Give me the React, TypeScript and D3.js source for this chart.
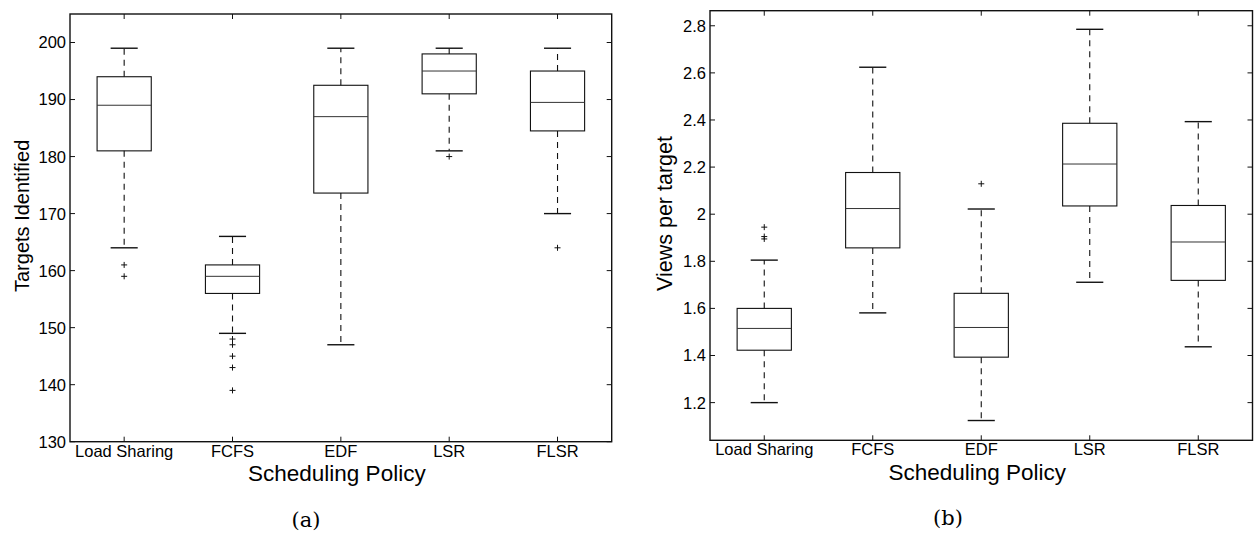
import React from "react";
import * as d3 from "d3";

const categories = ["Load Sharing", "FCFS", "EDF", "LSR", "FLSR"];

// Panel (a): Targets Identified
const targetsLow = [164, 149, 147, 181, 170];
const targetsQ1 = [181, 156, 173.6, 191, 184.5];
const targetsMedian = [189, 159, 187, 195, 189.5];
const targetsQ3 = [194, 161, 192.5, 198, 195];
const targetsHigh = [199, 166, 199, 199, 199];
const targetsOutliers = [[161, 159], [148, 147, 145, 143, 139], [], [180], [164]];
const targetsTicks = [130, 140, 150, 160, 170, 180, 190, 200];

// Panel (b): Views per target
const viewsLow = [1.2, 1.581, 1.124, 1.711, 1.437];
const viewsQ1 = [1.4225, 1.857, 1.393, 2.035, 1.719];
const viewsMedian = [1.515, 2.024, 1.519, 2.213, 1.882];
const viewsQ3 = [1.6, 2.177, 1.664, 2.386, 2.037];
const viewsHigh = [1.805, 2.624, 2.022, 2.785, 2.393];
const viewsOutliers = [[1.945, 1.905, 1.895], [], [2.129], [], []];
const viewsTicks = [1.2, 1.4, 1.6, 1.8, 2, 2.2, 2.4, 2.6, 2.8];

type PanelProps = {
  left: number; right: number; top: number; bottom: number;
  domain: [number, number];
  ticks: number[];
  low: number[]; q1: number[]; med: number[]; q3: number[]; high: number[];
  outliers: number[][];
  yLabel: string; yLabelX: number; yLabelSize: number;
  caption: string; captionX: number;
  fmt: (v: number) => string;
};

const SANS = "Arial, 'Liberation Sans', Helvetica, sans-serif";

function Panel(p: PanelProps) {
  const x = d3.scaleLinear().domain([0.5, categories.length + 0.5]).range([p.left, p.right]);
  const y = d3.scaleLinear().domain(p.domain).range([p.bottom, p.top]);
  const step = x(2) - x(1);
  const bw = step * 0.25;
  const cw = step * 0.125;
  const tl = 5;
  const ink = "#111";
  return (
    <g>
      {categories.map((c, i) => {
        const cx = x(i + 1);
        return (
          <g key={c}>
            <line x1={cx} x2={cx} y1={y(p.q3[i])} y2={y(p.high[i])} stroke={ink} strokeWidth={1.1} strokeDasharray="6,5" />
            <line x1={cx} x2={cx} y1={y(p.q1[i])} y2={y(p.low[i])} stroke={ink} strokeWidth={1.1} strokeDasharray="6,5" />
            <line x1={cx - cw} x2={cx + cw} y1={y(p.high[i])} y2={y(p.high[i])} stroke={ink} strokeWidth={1.4} />
            <line x1={cx - cw} x2={cx + cw} y1={y(p.low[i])} y2={y(p.low[i])} stroke={ink} strokeWidth={1.4} />
            <rect x={cx - bw} y={y(p.q3[i])} width={2 * bw} height={y(p.q1[i]) - y(p.q3[i])} fill="none" stroke={ink} strokeWidth={1.1} />
            <line x1={cx - bw} x2={cx + bw} y1={y(p.med[i])} y2={y(p.med[i])} stroke="#333" strokeWidth={1} />
            {p.outliers[i].map((o, j) => (
              <g key={j} stroke={ink} strokeWidth={1}>
                <line x1={cx - 3} x2={cx + 3} y1={y(o)} y2={y(o)} />
                <line x1={cx} x2={cx} y1={y(o) - 3} y2={y(o) + 3} />
              </g>
            ))}
          </g>
        );
      })}
      <rect x={p.left} y={p.top} width={p.right - p.left} height={p.bottom - p.top} fill="none" stroke={ink} strokeWidth={1.4} />
      {p.ticks.map((t) => (
        <g key={t}>
          <line x1={p.left} x2={p.left + tl} y1={y(t)} y2={y(t)} stroke={ink} strokeWidth={1} />
          <line x1={p.right} x2={p.right - tl} y1={y(t)} y2={y(t)} stroke={ink} strokeWidth={1} />
          <text x={p.left - 4} y={y(t)} dy="0.36em" textAnchor="end" fontFamily={SANS} fontSize={16.5} fill="#000">
            {p.fmt(t)}
          </text>
        </g>
      ))}
      {categories.map((c, i) => (
        <g key={c}>
          <line x1={x(i + 1)} x2={x(i + 1)} y1={p.bottom} y2={p.bottom - tl} stroke={ink} strokeWidth={1} />
          <line x1={x(i + 1)} x2={x(i + 1)} y1={p.top} y2={p.top + tl} stroke={ink} strokeWidth={1} />
          <text x={x(i + 1)} y={p.bottom + 15} textAnchor="middle" fontFamily={SANS} fontSize={16.5} fill="#000">
            {c}
          </text>
        </g>
      ))}
      <text
        transform={`translate(${p.yLabelX},${(p.top + p.bottom) / 2 - 12}) rotate(-90)`}
        textAnchor="middle" dy="0.35em" fontFamily={SANS} fontSize={p.yLabelSize} fill="#000"
      >
        {p.yLabel}
      </text>
      <text x={(p.left + p.right) / 2 - 4} y={p.bottom + 39.5} textAnchor="middle" fontFamily={SANS} fontSize={22.5} fill="#000">
        Scheduling Policy
      </text>
      <text x={p.captionX} y={p.bottom + 85} textAnchor="middle" fontFamily="'DejaVu Serif', serif" fontSize={21} fill="#000">
        {p.caption}
      </text>
    </g>
  );
}

export default function App() {
  return (
    <svg width={1255} height={535} style={{ position: "absolute", left: 0, top: 0, background: "#fff" }}>
      <rect x={0} y={0} width={1255} height={535} fill="#fff" />
      <Panel
        left={70} right={611.7} top={14} bottom={441.7}
        domain={[130, 205]} ticks={targetsTicks}
        low={targetsLow} q1={targetsQ1} med={targetsMedian} q3={targetsQ3} high={targetsHigh}
        outliers={targetsOutliers}
        yLabel="Targets Identified" yLabelX={22} yLabelSize={20}
        caption="(a)" captionX={306}
        fmt={(v) => d3.format("d")(v)}
      />
      <Panel
        left={710} right={1252.5} top={10.7} bottom={440.3}
        domain={[1.04, 2.864]} ticks={viewsTicks}
        low={viewsLow} q1={viewsQ1} med={viewsMedian} q3={viewsQ3} high={viewsHigh}
        outliers={viewsOutliers}
        yLabel="Views per target" yLabelX={664} yLabelSize={21.5}
        caption="(b)" captionX={948}
        fmt={(v) => String(+v.toFixed(1))}
      />
    </svg>
  );
}
